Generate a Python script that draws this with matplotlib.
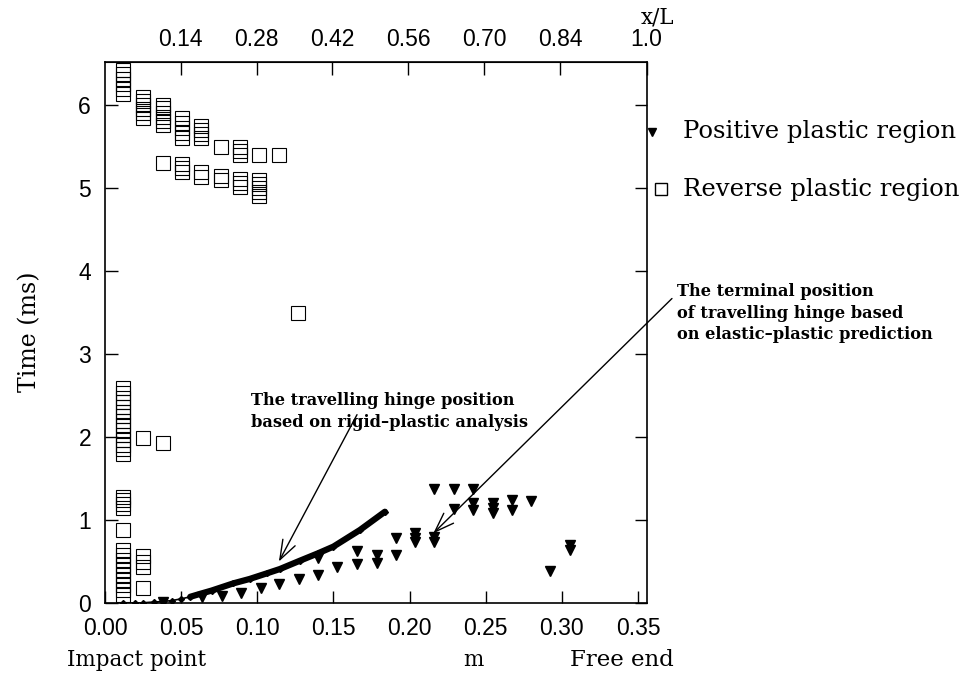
import numpy as np
import matplotlib.pyplot as plt

# reverse plastic region (open squares): position m, time ms
rev_x = ([0.012] * 6 + [0.012] * 15 + [0.012] * 4 + [0.012] + [0.012] * 10
         + [0.0247] * 6 + [0.0247] * 5
         + [0.0378] * 6 + [0.0378] * 2
         + [0.0506] * 5 + [0.0506] * 3
         + [0.0632] * 4 + [0.0632] * 2
         + [0.0759] * 3
         + [0.0886] * 3 + [0.0886] * 3
         + [0.1013] * 6
         + [0.1140, 0.1267])
rev_y = ([6.13, 6.19, 6.25, 6.31, 6.37, 6.42]
         + [1.80, 1.86, 1.91, 1.97, 2.02, 2.08, 2.14, 2.19, 2.25, 2.30, 2.36, 2.42, 2.47, 2.53, 2.59]
         + [1.14, 1.19, 1.24, 1.28]
         + [0.885]
         + [0.10, 0.16, 0.22, 0.28, 0.34, 0.40, 0.46, 0.52, 0.58, 0.64]
         + [5.85, 5.90, 5.95, 6.00, 6.05, 6.10]
         + [1.99, 0.57, 0.50, 0.43, 0.18]
         + [5.76, 5.81, 5.86, 5.91, 5.96, 6.00]
         + [5.30, 1.93]
         + [5.60, 5.66, 5.72, 5.78, 5.85]
         + [5.20, 5.24, 5.29]
         + [5.60, 5.65, 5.70, 5.75]
         + [5.14, 5.19]
         + [5.50, 5.10, 5.15]
         + [5.40, 5.45, 5.50]
         + [5.01, 5.06, 5.11]
         + [5.40, 4.90, 4.95, 5.00, 5.05, 5.10]
         + [5.40, 3.50])

# positive plastic region (filled triangles)
pos_x = [0.038, 0.0635, 0.0766, 0.0891, 0.1022, 0.1144, 0.1274,
         0.1397, 0.1397, 0.1521, 0.1653, 0.1653, 0.1784, 0.1784,
         0.1911, 0.1911, 0.2035, 0.2035, 0.2035, 0.216, 0.216, 0.216,
         0.2292, 0.2292, 0.2418, 0.2418, 0.2418, 0.2546, 0.2546, 0.2546,
         0.267, 0.267, 0.2797, 0.2922, 0.3053, 0.3053]
pos_y = [0.01, 0.07, 0.08, 0.125, 0.18, 0.23, 0.285,
         0.335, 0.54, 0.43, 0.47, 0.63, 0.48, 0.58,
         0.58, 0.78, 0.84, 0.78, 0.73, 0.80, 0.74, 1.38,
         1.38, 1.13, 1.38, 1.20, 1.12, 1.20, 1.15, 1.09,
         1.24, 1.12, 1.23, 0.385, 0.70, 0.64]

# rigid-plastic travelling hinge
hinge_x = [0.012, 0.020, 0.025, 0.032, 0.038, 0.044, 0.050, 0.056, 0.0624, 0.070,
           0.0843, 0.095, 0.1062, 0.1149, 0.128, 0.140, 0.150, 0.1674, 0.1838]
hinge_y = [0.0, 0.0, 0.003, 0.012, 0.018, 0.03, 0.05, 0.075, 0.11, 0.15,
           0.237, 0.29, 0.357, 0.41, 0.51, 0.60, 0.68, 0.88, 1.10]

x_ticks = [0.00, 0.05, 0.10, 0.15, 0.20, 0.25, 0.30, 0.35]
xl_ticks = [0.14, 0.28, 0.42, 0.56, 0.70, 0.84, 1.0]
xl_labels = ['0.14', '0.28', '0.42', '0.56', '0.70', '0.84', '1.0']
y_ticks = [0, 1, 2, 3, 4, 5, 6]

L = 0.3557
serif = 'DejaVu Serif'
plt.rcParams['font.family'] = ['Liberation Sans', 'DejaVu Sans']

fig = plt.figure(figsize=(9.71, 6.8), dpi=100)
ax = fig.add_axes([0.1081, 0.1132, 0.5579, 0.7956])

ax.plot(rev_x, rev_y, ls='none', marker='s', ms=9.5, mfc='none', mec='black', mew=0.8)
ax.plot(pos_x, pos_y, ls='none', marker='v', ms=7, color='black')

hx = np.array(hinge_x)
hy = np.array(hinge_y)
ax.plot(hx, hy, color='black', lw=1.2, marker='D', ms=3)
thick = hx >= 0.056
ax.plot(hx[thick], hy[thick], color='black', lw=4.5, solid_capstyle='round')

ax.set_xlim(0, L)
ax.set_ylim(0, 6.52)
ax.set_xticks(x_ticks)
ax.set_xticklabels(['%.2f' % v for v in x_ticks])
ax.set_yticks(y_ticks)
ax.tick_params(direction='in', length=9, width=1, top=False, right=True,
               labelsize=16.5, pad=10)

secax = ax.secondary_xaxis('top', functions=(lambda x: x / L, lambda t: t * L))
secax.set_xticks(xl_ticks)
secax.set_xticklabels(xl_labels)
secax.tick_params(direction='in', length=9, width=1, labelsize=16.5, pad=8)

for s in ax.spines.values():
    s.set_linewidth(1.2)

# legend drawn by hand at the right of the frame
ax.plot([1.009], [0.871], transform=ax.transAxes, marker='v', ms=5.5, color='black', clip_on=False)
ax.plot([1.026], [0.765], transform=ax.transAxes, marker='s', ms=9, mfc='none',
        mec='black', mew=1.0, clip_on=False)
ax.text(1.067, 0.871, 'Positive plastic region', transform=ax.transAxes, va='center',
        family=serif, fontsize=17.5)
ax.text(1.067, 0.765, 'Reverse plastic region', transform=ax.transAxes, va='center',
        family=serif, fontsize=17.5)

arrow = dict(arrowstyle='->,head_length=0.7,head_width=0.25', color='black',
             lw=1.0, mutation_scale=20, shrinkA=0, shrinkB=0)
ax.annotate('', xy=(0.1142, 0.50), xytext=(0.1655, 2.27), arrowprops=arrow)
ax.text(0.0959, 2.31, 'The travelling hinge position\nbased on rigid\u2013plastic analysis',
        va='center', ha='left', family=serif, fontweight='bold', fontsize=11.7,
        linespacing=1.35)
ax.annotate('', xy=(0.2156, 0.84), xytext=(0.3723, 3.67), arrowprops=arrow,
            annotation_clip=False)
ax.text(0.3756, 3.49, 'The terminal position\nof travelling hinge based\non elastic\u2013plastic prediction',
        va='center', ha='left', family=serif, fontweight='bold', fontsize=11.7,
        linespacing=1.35, clip_on=False)

fig.text(30 / 971, 1 - 332 / 680, 'Time (ms)', rotation=90, ha='center', va='center',
         family=serif, fontsize=17)
fig.text(67 / 971, 1 - 660 / 680, 'Impact point', ha='left', va='center', family=serif, fontsize=15.5)
fig.text(473 / 971, 1 - 660 / 680, 'm', ha='center', va='center', family=serif, fontsize=15.5)
fig.text(570 / 971, 1 - 660 / 680, 'Free end', ha='left', va='center', family=serif, fontsize=16.5)
fig.text(657 / 971, 1 - 18 / 680, 'x/L', ha='center', va='center', family=serif, fontsize=15.5)

fig.savefig('out.png', dpi=100)
